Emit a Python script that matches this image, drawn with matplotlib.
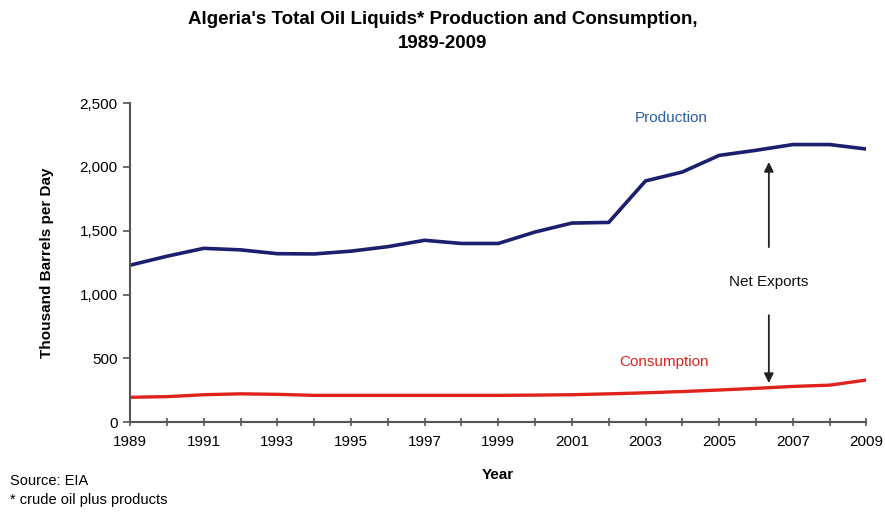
import matplotlib
matplotlib.use("Agg")
import matplotlib.pyplot as plt
from matplotlib.ticker import FuncFormatter, MultipleLocator

plt.rcParams['font.family'] = ['Liberation Sans', 'DejaVu Sans']

years = list(range(1989, 2010))
production = [1230, 1300, 1362, 1350, 1320, 1318, 1340, 1375, 1425, 1400, 1400,
              1490, 1560, 1565, 1890, 1960, 2090, 2130, 2175, 2175, 2140]
consumption = [195, 200, 215, 222, 218, 210, 210, 210, 210, 210, 210,
               212, 215, 222, 230, 240, 252, 265, 280, 290, 330]
tick_years = list(range(1989, 2010, 2))

fig = plt.figure(figsize=(8.85, 5.18), dpi=100)
ax = fig.add_axes([0.147, 0.185, 0.832, 0.616])

ax.plot(years, production, color='#1b1f6e', lw=2.6, solid_joinstyle='round')
ax.plot(years, consumption, color='#e0231c', lw=2.4, solid_joinstyle='round')

ax.set_xlim(1989, 2009)
ax.set_ylim(0, 2500)
ax.set_xticks(tick_years)
ax.set_xticklabels([str(y) for y in tick_years])
ax.set_xticks(years, minor=True)
ax.yaxis.set_major_locator(MultipleLocator(500))
ax.yaxis.set_major_formatter(FuncFormatter(lambda v, p: f"{int(v):,}"))

for s in ['top', 'right']:
    ax.spines[s].set_visible(False)
for s in ['left', 'bottom']:
    ax.spines[s].set_color('#555555')
    ax.spines[s].set_linewidth(1.5)

ax.tick_params(axis='x', which='both', direction='inout', length=6, width=1.2,
               color='#555555', labelsize=11, pad=6)
ax.tick_params(axis='y', which='major', direction='out', length=5, width=1.2,
               color='#555555', labelsize=11, pad=4)

ax.set_ylabel('Thousand Barrels per Day', fontsize=11, fontweight='bold', labelpad=18)
ax.set_xlabel('Year', fontsize=11, fontweight='bold', labelpad=14)

fig.suptitle("Algeria's Total Oil Liquids* Production and Consumption,\n1989-2009",
             fontsize=13.5, fontweight='bold', y=0.978, linespacing=1.5)

ax.text(2003.7, 2382, 'Production', color='#2a5d9f', fontsize=11, ha='center', va='center')
ax.text(2003.5, 470, 'Consumption', color='#e0231c', fontsize=11, ha='center', va='center')
ax.text(2006.35, 1100, 'Net Exports', color='#111111', fontsize=11, ha='center', va='center')
ax.annotate('', xy=(2006.35, 2060), xytext=(2006.35, 1350),
            arrowprops=dict(arrowstyle='-|>', color='#222222', lw=1.3, mutation_scale=14))
ax.annotate('', xy=(2006.35, 285), xytext=(2006.35, 860),
            arrowprops=dict(arrowstyle='-|>', color='#222222', lw=1.3, mutation_scale=14))

fig.text(0.011, 0.072, 'Source: EIA', fontsize=10.5, ha='left', va='center')
fig.text(0.011, 0.035, '* crude oil plus products', fontsize=10.5, ha='left', va='center')

fig.savefig('out.png', dpi=100)
